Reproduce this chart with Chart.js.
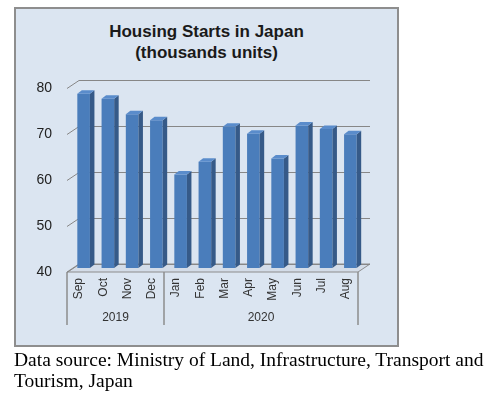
<!DOCTYPE html>
<html>
<head>
<meta charset="utf-8">
<script src="https://cdn.jsdelivr.net/npm/chart.js@4/dist/chart.umd.min.js"></script>
<style>
  html, body { margin: 0; padding: 0; background: #fff; }
  #wrap { position: relative; width: 491px; height: 396px; overflow: hidden; }
  #panel {
    position: absolute; left: 14px; top: 7px; width: 381px; height: 336px;
    background: #dbe5f1; border: 2px solid #8e8e8e;
  }
  #title {
    position: absolute; left: 14px; top: 21px; width: 385px; text-align: center;
    font: bold 17px "Liberation Sans", Arial, sans-serif; line-height: 21px; color: #1a1a1a;
  }
  #chart { position: absolute; left: 0; top: 0; }
  #caption {
    position: absolute; left: 14px; top: 349px; width: 477px; white-space: nowrap;
    font: 19.5px "Liberation Serif", "Times New Roman", serif; line-height: 21px; color: #000;
  }
</style>
</head>
<body>
<div id="wrap">
  <div id="panel"></div>
  <div id="title">Housing Starts in Japan<br>(thousands units)</div>
  <canvas id="chart" width="491" height="396"></canvas>
  <div id="caption">Data source: Ministry of Land, Infrastructure, Transport and<br>Tourism, Japan</div>
</div>
<script>
/* housing starts, Sep 2019 - Aug 2020 */
const months = ['Sep', 'Oct', 'Nov', 'Dec', 'Jan', 'Feb', 'Mar', 'Apr', 'May', 'Jun', 'Jul', 'Aug'];
const years = ['2019', '2020'];
const monthsPerYear = [4, 8];
const starts = [77.9, 76.8, 73.4, 72.1, 60.3, 63.1, 70.7, 69.2, 63.8, 71.0, 70.2, 69.1];
const yTicks = [40, 50, 60, 70, 80];

const wall = { dx: 12, dy: -8 };     // back plane offset
const shift = { x: 4.5, y: -4 };     // bars sit mid-depth
const bar3d = { x: 4.5, y: -3.5 };   // bar depth

const threeD = {
  id: 'threeD',
  beforeDatasetsDraw(chart) {
    const { ctx, chartArea: a, scales: { y } } = chart;
    ctx.save();
    // floor
    const fy = y.getPixelForValue(40);
    ctx.beginPath();
    ctx.moveTo(a.left, fy);
    ctx.lineTo(a.right, fy);
    ctx.lineTo(a.right + wall.dx, fy + wall.dy);
    ctx.lineTo(a.left + wall.dx, fy + wall.dy);
    ctx.closePath();
    ctx.fillStyle = '#d3dce8';
    ctx.fill();
    ctx.strokeStyle = '#8c8c8c';
    ctx.lineWidth = 1;
    ctx.stroke();
    // back gridlines + left wall ticks
    ctx.strokeStyle = '#878787';
    yTicks.forEach(v => {
      const py = Math.round(y.getPixelForValue(v)) + 0.5;
      ctx.beginPath();
      ctx.moveTo(a.left + wall.dx, py + wall.dy);
      ctx.lineTo(a.right + wall.dx, py + wall.dy);
      ctx.moveTo(a.left, py);
      ctx.lineTo(a.left + wall.dx, py + wall.dy);
      ctx.stroke();
    });
    ctx.restore();
    ctx.save();
    ctx.translate(shift.x, shift.y);
  },
  afterDatasetsDraw(chart) {
    const { ctx, chartArea: a } = chart;
    chart.getDatasetMeta(0).data.forEach(b => {
      const l = b.x - b.width / 2, r = b.x + b.width / 2;
      const base = Math.min(b.base, a.bottom);
      ctx.fillStyle = '#365a88';
      ctx.beginPath();
      ctx.moveTo(r, b.y);
      ctx.lineTo(r + bar3d.x, b.y + bar3d.y);
      ctx.lineTo(r + bar3d.x, base + bar3d.y);
      ctx.lineTo(r, base);
      ctx.closePath();
      ctx.fill();
      ctx.fillStyle = '#5a8ccb';
      ctx.beginPath();
      ctx.moveTo(l, b.y);
      ctx.lineTo(l + bar3d.x, b.y + bar3d.y);
      ctx.lineTo(r + bar3d.x, b.y + bar3d.y);
      ctx.lineTo(r, b.y);
      ctx.closePath();
      ctx.fill();
    });
    ctx.restore();
  },
  afterDraw(chart) {
    const { ctx, chartArea: a } = chart;
    const step = (a.right - a.left) / months.length;
    const top = a.bottom, bottom = a.bottom + 53;
    ctx.save();
    ctx.strokeStyle = '#8c8c8c';
    ctx.lineWidth = 1.5;
    ctx.fillStyle = '#333';
    ctx.font = '12px "Liberation Sans", Arial, sans-serif';
    ctx.textAlign = 'center';
    ctx.textBaseline = 'middle';
    let start = 0;
    const edge = px => { ctx.beginPath(); ctx.moveTo(px, top); ctx.lineTo(px, bottom); ctx.stroke(); };
    edge(Math.round(a.left));
    years.forEach((yr, i) => {
      const end = start + monthsPerYear[i];
      const x0 = a.left + start * step, x1 = a.left + end * step;
      edge(Math.round(x1));
      ctx.fillText(yr, (x0 + x1) / 2, a.bottom + 46);
      start = end;
    });
    ctx.restore();
  }
};

new Chart(document.getElementById('chart'), {
  type: 'bar',
  data: {
    labels: months,
    datasets: [{
      data: starts,
      backgroundColor: '#4a7dbb',
      borderWidth: 0,
      barPercentage: 0.52,
      categoryPercentage: 1,
    }],
  },
  options: {
    responsive: false,
    animation: false,
    events: [],
    layout: { padding: { top: 88, right: 133, left: 0, bottom: 0 } },
    plugins: { legend: { display: false }, title: { display: false }, tooltip: { enabled: false } },
    scales: {
      x: {
        grid: { display: false, drawTicks: false },
        border: { display: false },
        ticks: {
          minRotation: 90, maxRotation: 90, padding: 6, color: '#333',
          font: { family: '"Liberation Sans", Arial, sans-serif', size: 12 },
        },
        afterFit(s) { s.height = 124; },
      },
      y: {
        min: 40, max: 80,
        grid: { display: false, drawTicks: false },
        border: { display: false },
        ticks: {
          stepSize: 10, padding: 15, color: '#222',
          font: { family: '"Liberation Sans", Arial, sans-serif', size: 14 },
        },
        afterFit(s) { s.width = 67; },
      },
    },
  },
  plugins: [threeD],
});
</script>
</body>
</html>
